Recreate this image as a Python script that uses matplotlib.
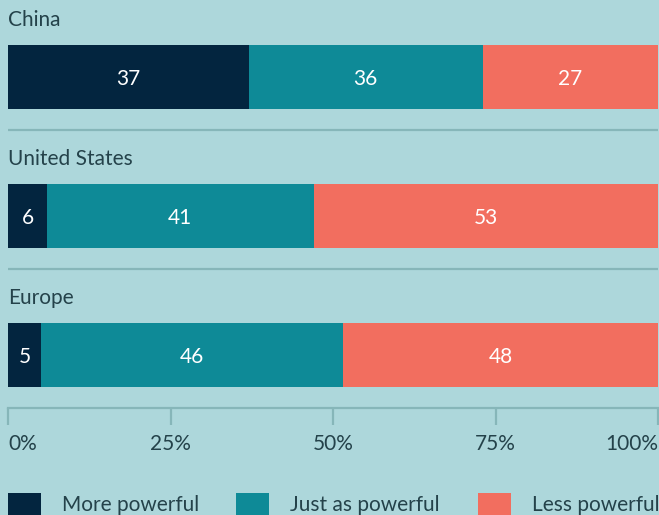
import matplotlib
matplotlib.use("Agg")
import matplotlib.pyplot as plt
import numpy as np

regions = ["China", "United States", "Europe"]
series = ["More powerful", "Just as powerful", "Less powerful"]
more = [37, 6, 5]
same = [36, 41, 46]
less = [27, 53, 48]
ticks = [0, 25, 50, 75, 100]
tick_labels = ["0%", "25%", "50%", "75%", "100%"]

bg = "#add7db"
colors = ["#03253f", "#0e8a97", "#f26e5f"]
txt = "#24424a"
grid = "#86b6b9"

plt.rcParams["font.family"] = ["Lato", "DejaVu Sans"]

W, H = 659, 515
fig = plt.figure(figsize=(W / 100, H / 100), dpi=100, facecolor=bg)
# axes in pixel terms: x 8..658, y 0..408 (top to axis line)
ax = fig.add_axes([8 / W, (H - 408) / H, 650 / W, 408 / H], facecolor=bg)

step = 139.0
top = -77 / step
bottom = (408 - 77) / step
ax.set_xlim(0, 100)
ax.set_ylim(bottom, top)

vals = np.array([more, same, less], dtype=float)
tot = vals.sum(axis=0)
pct = vals / tot * 100
left = np.zeros(len(regions))
y = np.arange(len(regions))
for k in range(3):
    ax.barh(y, pct[k], left=left, height=64 / step, color=colors[k], linewidth=0)
    for i in range(len(regions)):
        ax.text(left[i] + pct[k][i] / 2, y[i] + 2 / step, str(int(vals[k][i])), ha="center",
                va="center", color="white", fontsize=15)
    left += pct[k]

for i, r in enumerate(regions):
    ax.text(0, y[i] - 57 / step, r, ha="left", va="center", color=txt, fontsize=15)
for i in range(len(regions) - 1):
    ax.axhline(y[i] + 53 / step, color=grid, lw=1.6)

for s in ["top", "left", "right"]:
    ax.spines[s].set_visible(False)
ax.spines["bottom"].set_color(grid)
ax.spines["bottom"].set_linewidth(1.6)
ax.set_yticks([])
ax.set_xticks(ticks)
ax.set_xticklabels(tick_labels, fontsize=15, color=txt)
ax.tick_params(axis="x", length=12, width=1.6, color=grid, pad=7)
lbls = ax.get_xticklabels()
lbls[0].set_ha("left")
lbls[-1].set_ha("right")

# legend
lx = [8, 236, 478]
for k in range(3):
    fig.patches.append(plt.Rectangle((lx[k] / W, 0), 33 / W, 22 / H,
                                     transform=fig.transFigure, color=colors[k], lw=0))
    fig.text((lx[k] + 54) / W, 10 / H, series[k], ha="left", va="center",
             color=txt, fontsize=15)

fig.savefig("out.png", dpi=100, facecolor=bg)
